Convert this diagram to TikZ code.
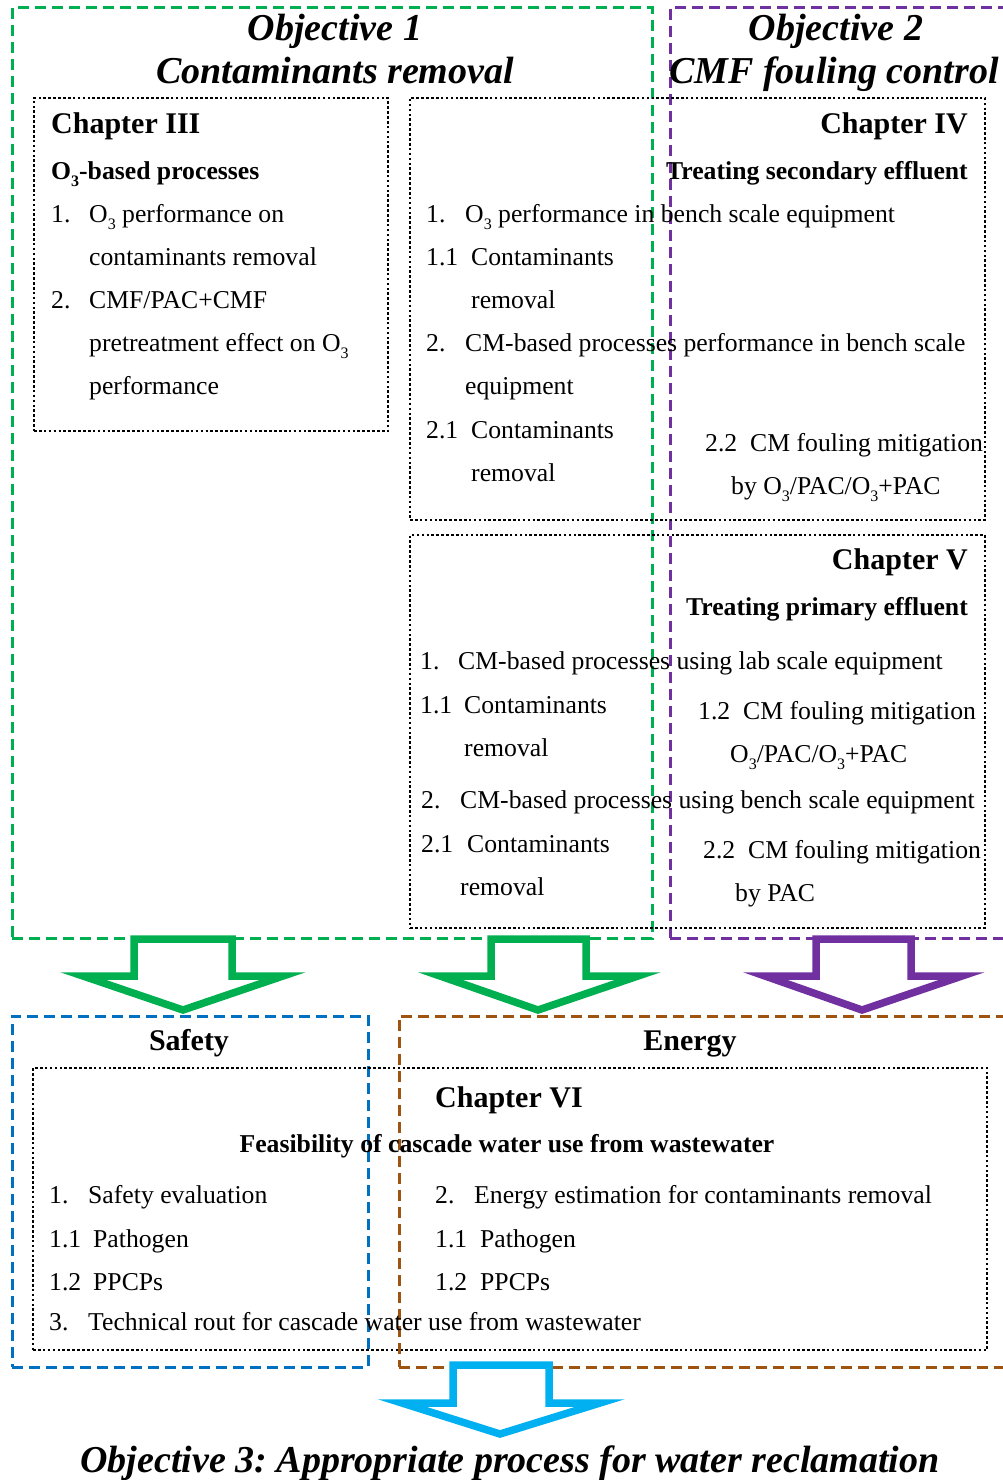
\documentclass[tikz,border=0pt]{standalone}
\usepackage{fontspec}
\setmainfont{Liberation Serif}
\usetikzlibrary{fit}
\definecolor{cgreen}{RGB}{0,176,80}
\definecolor{cpurple}{RGB}{112,48,160}
\definecolor{cblue}{RGB}{0,112,192}
\definecolor{cbrown}{RGB}{158,84,16}
\definecolor{ccyan}{RGB}{0,176,240}
\newcommand{\subthree}{\raisebox{-0.28em}{\fontsize{16}{18}\selectfont 3}}
\begin{document}
\frenchspacing
\begin{tikzpicture}[x=1pt,y=-1pt,
  dashbox/.style={draw=#1, line width=3pt, dash pattern=on 11pt off 6pt, inner sep=0pt, fill=none},
  dotbox/.style={draw=black, line width=2.6pt, dash pattern=on 2.6pt off 2.3pt, inner sep=0pt},
  txt/.style={anchor=base west, inner sep=0pt, font=\fontsize{25.7}{30}\selectfont},
  subhd/.style={inner sep=0pt, font=\fontsize{25.7}{30}\selectfont\bfseries},
  chap/.style={inner sep=0pt, font=\fontsize{30}{36}\selectfont\bfseries},
  objt/.style={anchor=base, inner sep=0pt, font=\fontsize{38}{44}\selectfont\bfseries\itshape},
  blockarrow/.style={draw=#1, line width=7.5pt, miter limit=20, line join=miter, fill=white}
]
\useasboundingbox (0,0) rectangle (1003,1480);
\fill[white] (0,0) rectangle (1003,1480);

% objective boxes
\node[dashbox=cgreen, fit={(12,8) (652,938)}] (obj1) {};
\node[dashbox=cpurple, fit={(670,8) (1012,938)}] (obj2) {};

% chapter boxes
\node[dotbox, fit={(34,98) (388,431)}] (ch3) {};
\node[dotbox, fit={(410,98) (985,520)}] (ch4) {};
\node[dotbox, fit={(410,535) (985,928)}] (ch5) {};

% titles
\node[objt] (t1a) at (335,41) {Objective 1};
\node[objt] (t1b) at (335,84) {Contaminants removal};
\node[objt] (t2a) at (836,41) {Objective 2};
\node[objt] (t2b) at (834,84) {CMF fouling control};

% Chapter III
\node[chap, anchor=base west] (c3h) at (51,133) {Chapter III};
\node[subhd, anchor=base west] (c3s) at (51,179) {O{\subthree}-based processes};
\node[txt] (c3n1) at (51,222) {1.};
\node[txt] (c3l1) at (89,222) {O{\subthree} performance on};
\node[txt] (c3l2) at (89,265) {contaminants removal};
\node[txt] (c3n2) at (51,308) {2.};
\node[txt] (c3l3) at (89,308) {CMF/PAC+CMF};
\node[txt] (c3l4) at (89,351) {pretreatment effect on O{\subthree}};
\node[txt] (c3l5) at (89,394) {performance};

% Chapter IV
\node[chap, anchor=base east] (c4h) at (968,133) {Chapter IV};
\node[subhd, anchor=base east] (c4s) at (968,179) {Treating secondary effluent};
\node[txt] (c4n1) at (426,222) {1.};
\node[txt] (c4l1) at (465,222) {O{\subthree} performance in bench scale equipment};
\node[txt] (c4n11) at (426,265) {1.1};
\node[txt] (c4l2) at (471,265) {Contaminants};
\node[txt] (c4l3) at (471,308) {removal};
\node[txt] (c4n2) at (426,351) {2.};
\node[txt] (c4l4) at (465,351) {CM-based processes performance in bench scale};
\node[txt] (c4l5) at (465,394) {equipment};
\node[txt] (c4n21) at (426,438) {2.1};
\node[txt] (c4l6) at (471,438) {Contaminants};
\node[txt] (c4l7) at (471,481) {removal};
\node[txt] (c4n22) at (705,451) {2.2};
\node[txt] (c4l8) at (750,451) {CM fouling mitigation};
\node[txt] (c4l9) at (731,494) {by O{\subthree}/PAC/O{\subthree}+PAC};

% Chapter V
\node[chap, anchor=base east] (c5h) at (968,569) {Chapter V};
\node[subhd, anchor=base east] (c5s) at (968,615) {Treating primary effluent};
\node[txt] (c5n1) at (420,669) {1.};
\node[txt] (c5l1) at (458,669) {CM-based processes using lab scale equipment};
\node[txt] (c5n11) at (420,713) {1.1};
\node[txt] (c5l2) at (464,713) {Contaminants};
\node[txt] (c5l3) at (464,756) {removal};
\node[txt] (c5n12) at (698,719) {1.2};
\node[txt] (c5l4) at (743,719) {CM fouling mitigation};
\node[txt] (c5l5) at (730,762) {O{\subthree}/PAC/O{\subthree}+PAC};
\node[txt] (c5n2) at (421,808) {2.};
\node[txt] (c5l6) at (460,808) {CM-based processes using bench scale equipment};
\node[txt] (c5n21) at (421,852) {2.1};
\node[txt] (c5l7) at (467,852) {Contaminants};
\node[txt] (c5l8) at (460,895) {removal};
\node[txt] (c5n22) at (703,858) {2.2};
\node[txt] (c5l9) at (748,858) {CM fouling mitigation};
\node[txt] (c5l10) at (735,901) {by PAC};

% block arrows
\draw[blockarrow=cgreen] (134,939) -- (232,939) -- (232,976) -- (283,976) -- (183,1010) -- (83,976) -- (134,976) -- cycle;
\draw[blockarrow=cgreen] (491,939) -- (586,939) -- (586,976) -- (638,976) -- (538,1010) -- (440,976) -- (491,976) -- cycle;
\draw[blockarrow=cpurple] (816,939) -- (911,939) -- (911,976) -- (962,976) -- (862,1010) -- (765,976) -- (816,976) -- cycle;

% lower boxes
\node[dashbox=cblue, fit={(12,1016) (368,1367)}] (safety) {};
\node[dashbox=cbrown, fit={(399,1016) (1012,1367)}] (energy) {};
\node[dotbox, fit={(33,1068) (987,1350)}] (ch6) {};

\node[chap, anchor=base] (sfh) at (189,1050) {Safety};
\node[chap, anchor=base] (enh) at (690,1050) {Energy};
\node[chap, anchor=base west] (c6h) at (435,1107) {Chapter VI};
\node[subhd, anchor=base] (c6s) at (507,1152) {Feasibility of cascade water use from wastewater};
\node[txt] (c6n1) at (49,1203) {1.};
\node[txt] (c6l1) at (88,1203) {Safety evaluation};
\node[txt] (c6n11) at (49,1247) {1.1};
\node[txt] (c6l2) at (93,1247) {Pathogen};
\node[txt] (c6n12) at (49,1290) {1.2};
\node[txt] (c6l3) at (93,1290) {PPCPs};
\node[txt] (c6n3) at (49,1330) {3.};
\node[txt] (c6l4) at (88,1330) {Technical rout for cascade water use from wastewater};
\node[txt] (c6n2) at (435,1203) {2.};
\node[txt] (c6l5) at (474,1203) {Energy estimation for contaminants removal};
\node[txt] (c6n21) at (435,1247) {1.1};
\node[txt] (c6l6) at (480,1247) {Pathogen};
\node[txt] (c6n22) at (435,1290) {1.2};
\node[txt] (c6l7) at (480,1290) {PPCPs};

% final arrow
\draw[blockarrow=ccyan] (453,1365) -- (549,1365) -- (549,1403) -- (600,1403) -- (500,1434) -- (402,1403) -- (453,1403) -- cycle;

\node[objt] (t3) at (510,1472) {Objective 3: Appropriate process for water reclamation};
\end{tikzpicture}
\end{document}
